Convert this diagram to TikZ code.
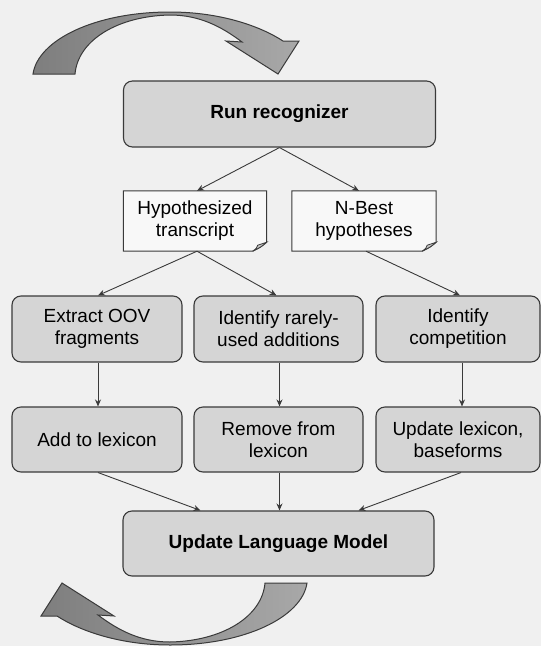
\documentclass[tikz,border=0pt]{standalone}
\usepackage{fontspec}
\setmainfont{Liberation Sans}
\usetikzlibrary{arrows.meta,backgrounds}
\definecolor{bg}{HTML}{F0F0F0}
\definecolor{boxfill}{HTML}{D5D5D5}
\definecolor{edge}{HTML}{3A3A3A}
\definecolor{docfill}{HTML}{F8F8F8}
\definecolor{arrdark}{HTML}{7E7E7E}
\definecolor{arrlight}{HTML}{A8A8A8}
\begin{document}
\begin{tikzpicture}[x=1pt,y=-1pt,
  txt/.style={align=center, inner sep=0pt, font=\fontsize{19}{22}\selectfont},
  box/.style={txt, draw=edge, line width=1.1pt, fill=boxfill, rounded corners=9pt},
  bigbox/.style={box, font=\fontsize{19}{22}\selectfont\bfseries},
  doc/.style={txt},
  docline/.style={draw=edge, line width=1pt, fill=docfill},
  conn/.style={draw=edge, line width=0.9pt, -{Stealth[length=7pt,width=6pt]}},
  bendarrow/.style={draw=edge, line width=1pt, left color=arrdark, right color=arrlight}]
\useasboundingbox (0,0) rectangle (541,646);

% boxes
\node[bigbox, minimum width=312pt, minimum height=66pt] (run) at (279.5,114) {Run recognizer};
\node[doc, minimum width=143pt, minimum height=60pt] (hyp) at (195,221) {Hypothesized\\transcript};
\node[doc, minimum width=144pt, minimum height=60pt] (nbest) at (364,221) {N-Best\\hypotheses};

\node[box, minimum width=170pt, minimum height=66pt] (ext) at (97,329) {Extract OOV\\fragments};
\node[box, minimum width=169pt, minimum height=66pt] (ident) at (278.5,329) {Identify rarely-\\used additions};
\node[box, minimum width=164pt, minimum height=66pt] (comp) at (458,329) {Identify\\competition};

\node[box, minimum width=170pt, minimum height=65pt] (add) at (97,439.5) {Add to lexicon};
\node[box, minimum width=169pt, minimum height=65pt] (rem) at (278.5,439.5) {Remove from\\lexicon};
\node[box, minimum width=164pt, minimum height=65pt] (upd) at (458,439.5) {Update lexicon,\\baseforms};

\node[bigbox, minimum width=311pt, minimum height=65pt] (lm) at (278.5,543.5) {Update Language Model};

% document outlines behind the texts
\begin{scope}[on background layer]
  \fill[bg] (0,0) rectangle (541,646);
  \foreach \d in {hyp,nbest}{
    \path[docline] (\d.north west) -- (\d.north east) -- ([yshift=9pt]\d.south east)
      .. controls ([xshift=-6pt,yshift=4pt]\d.south east) .. ([xshift=-14pt]\d.south east)
      -- (\d.south west) -- cycle;
    \path[draw=edge, line width=0.8pt, fill=gray!45] ([yshift=9pt]\d.south east)
      -- ([xshift=-9pt,yshift=6pt]\d.south east)
      .. controls ([xshift=-10pt,yshift=3pt]\d.south east) .. ([xshift=-14pt]\d.south east)
      .. controls ([xshift=-6pt,yshift=4pt]\d.south east) .. cycle;
  }
\end{scope}

% connectors
\draw[conn] (run.south) -- ([xshift=2pt]hyp.north);
\draw[conn] (run.south) -- ([xshift=-5pt]nbest.north);
\draw[conn] ([xshift=2pt]hyp.south) -- ([xshift=1pt]ext.north);
\draw[conn] ([xshift=2pt]hyp.south) -- ([xshift=-2pt]ident.north);
\draw[conn] ([xshift=2pt]nbest.south) -- ([xshift=2pt]comp.north);
\draw[conn] ([xshift=1pt]ext.south) -- ([xshift=1pt]add.north);
\draw[conn] ([xshift=1pt]ident.south) -- ([xshift=1pt]rem.north);
\draw[conn] ([xshift=4pt]comp.south) -- ([xshift=4pt]upd.north);
\draw[conn] ([xshift=1pt]add.south) -- ([xshift=-78pt]lm.north);
\draw[conn] ([xshift=1pt]rem.south) -- ([xshift=1pt]lm.north);
\draw[conn] ([xshift=3pt]upd.south) -- ([xshift=80pt]lm.north);

% curved arrows
\path[bendarrow] (33,74) .. controls (38,40) and (95,12) .. (170,12)
  .. controls (220,12) and (260,26) .. (283,41) -- (299,41) -- (278,74) -- (226,41) -- (242,42)
  .. controls (222,27) and (200,15) .. (170,15)
  .. controls (118,16) and (78,40) .. (75,74) -- cycle;
\begin{scope}[rotate around={180:(170,328.5)}]
\path[bendarrow] (33,74) .. controls (38,40) and (95,12) .. (170,12)
  .. controls (220,12) and (260,26) .. (283,41) -- (299,41) -- (278,74) -- (226,41) -- (242,42)
  .. controls (222,27) and (200,15) .. (170,15)
  .. controls (118,16) and (78,40) .. (75,74) -- cycle;
\end{scope}
\end{tikzpicture}
\end{document}
